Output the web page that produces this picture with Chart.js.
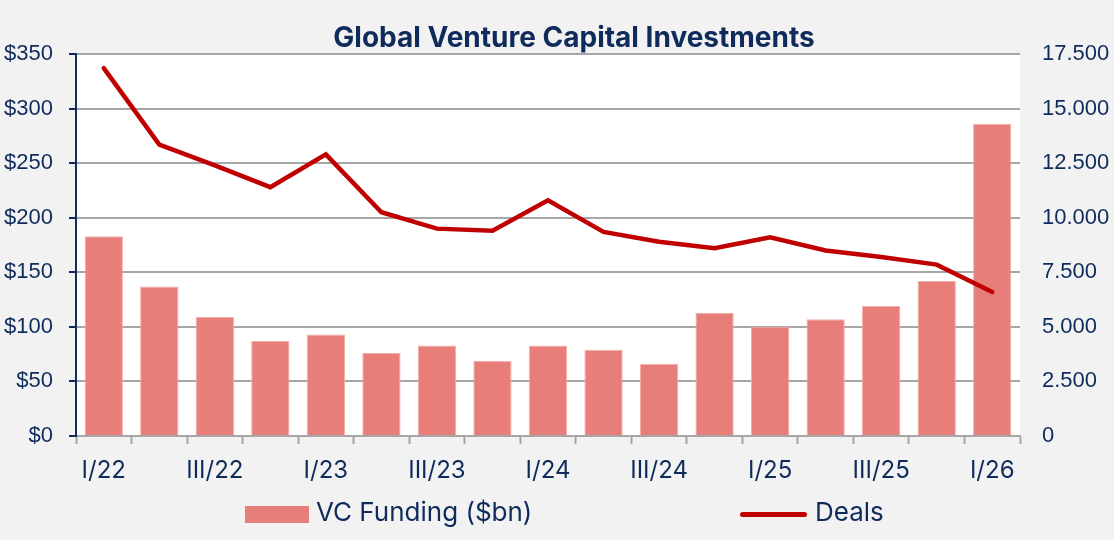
<!DOCTYPE html>
<html lang="en">
<head>
    <meta charset="UTF-8">
    <title>Global Venture Capital Investments</title>
    <script src="https://cdn.jsdelivr.net/npm/chart.js"></script>
    <style>
        body {
            margin: 0;
            background: #f2f2f2;
            font-family: Inter, "Noto Sans", sans-serif;
            color: #0f2b5c;
        }
        .wrap {
            position: relative;
            width: 1114px;
            height: 540px;
        }
        canvas {
            position: absolute;
            left: 0;
            top: 0;
        }
        .title {
            position: absolute;
            left: 574px;
            top: 19px;
            transform: translateX(-50%);
            font-size: 28px;
            font-weight: 700;
            white-space: nowrap;
            line-height: 36px;
        }
        .legend-item {
            position: absolute;
            top: 496px;
            height: 32px;
            line-height: 32px;
            font-size: 26px;
            white-space: nowrap;
        }
        .swatch-bar {
            position: absolute;
            left: 245px;
            top: 506px;
            width: 64px;
            height: 17px;
            background: #e87e7a;
        }
        .swatch-line {
            position: absolute;
            left: 740px;
            top: 512px;
            width: 67px;
            height: 5px;
            border-radius: 3px;
            background: #c00000;
        }
    </style>
</head>
<body>
<div class="wrap">
    <canvas id="vcChart" width="1114" height="540"></canvas>
    <div class="title">Global Venture Capital Investments</div>
    <div class="swatch-bar"></div>
    <div class="legend-item" style="left:316px">VC Funding ($bn)</div>
    <div class="swatch-line"></div>
    <div class="legend-item" style="left:815px">Deals</div>
</div>

<script>
    // quarters, funding in $bn (left axis), deal count (right axis)
    const quarters = ['I/22', 'II/22', 'III/22', 'IV/22', 'I/23', 'II/23', 'III/23', 'IV/23',
        'I/24', 'II/24', 'III/24', 'IV/24', 'I/25', 'II/25', 'III/25', 'IV/25', 'I/26'];
    const funding = [183, 137, 109, 87, 93, 76, 83, 69, 83, 79, 66, 113, 100, 107, 119, 142, 286];
    const deals = [16850, 13350, 12400, 11400, 12900, 10250, 9500, 9400, 10800, 9350, 8900, 8600, 9100, 8500, 8200, 7850, 6600];

    const navy = '#0f2b5c';
    const gridGray = '#a6a6a6';

    // white plot area on grey page
    const plotBg = {
        id: 'plotBg',
        beforeDraw(chart) {
            const {ctx, chartArea: a} = chart;
            ctx.save();
            ctx.fillStyle = '#ffffff';
            ctx.fillRect(a.left, a.top, a.right - a.left, a.bottom - a.top);
            ctx.restore();
        }
    };

    const ctx = document.getElementById('vcChart').getContext('2d');
    const chart = new Chart(ctx, {
        data: {
            labels: quarters,
            datasets: [{
                type: 'line',
                label: 'Deals',
                data: deals,
                yAxisID: 'y2',
                borderColor: '#c00000',
                borderWidth: 4.5,
                borderCapStyle: 'round',
                borderJoinStyle: 'miter',
                pointRadius: 0,
                tension: 0,
                order: 0
            }, {
                type: 'bar',
                label: 'VC Funding ($bn)',
                data: funding,
                yAxisID: 'y',
                backgroundColor: '#e87e7a',
                borderColor: '#f3aeab',
                borderWidth: 1,
                categoryPercentage: 1,
                barPercentage: 0.69,
                order: 1
            }]
        },
        options: {
            responsive: false,
            animation: false,
            layout: {padding: {top: 54, left: 0, right: 0, bottom: 0}},
            plugins: {
                legend: {display: false},
                title: {display: false},
                tooltip: {enabled: false}
            },
            scales: {
                x: {
                    offset: true,
                    grid: {
                        offset: true,
                        drawOnChartArea: false,
                        drawTicks: true,
                        tickLength: 8,
                        tickColor: gridGray,
                        tickWidth: 2
                    },
                    border: {display: true, color: gridGray, width: 2},
                    ticks: {
                        autoSkip: false,
                        maxRotation: 0,
                        padding: 12,
                        color: navy,
                        font: {family: 'Inter', size: 24},
                        callback: (v, i) => (i % 2 === 0 ? quarters[i] : '')
                    },
                    afterFit: s => { s.height = 104; }
                },
                y: {
                    position: 'left',
                    min: 0,
                    max: 350,
                    grid: {
                        color: gridGray,
                        lineWidth: 2,
                        tickLength: 7,
                        tickColor: navy,
                        tickWidth: 2
                    },
                    border: {display: true, color: navy, width: 2},
                    ticks: {
                        stepSize: 50,
                        padding: 16,
                        color: navy,
                        font: {family: 'Liberation Sans', size: 22},
                        callback: v => '$' + v
                    },
                    afterFit: s => { s.width = 76; }
                },
                y2: {
                    position: 'right',
                    min: 0,
                    max: 17500,
                    grid: {drawOnChartArea: false, drawTicks: false},
                    border: {display: false},
                    ticks: {
                        stepSize: 2500,
                        padding: 22,
                        color: navy,
                        font: {family: 'Liberation Sans', size: 22},
                        callback: v => v.toLocaleString('de-DE')
                    },
                    afterFit: s => { s.width = 94; }
                }
            }
        },
        plugins: [plotBg]
    });
</script>
</body>
</html>
